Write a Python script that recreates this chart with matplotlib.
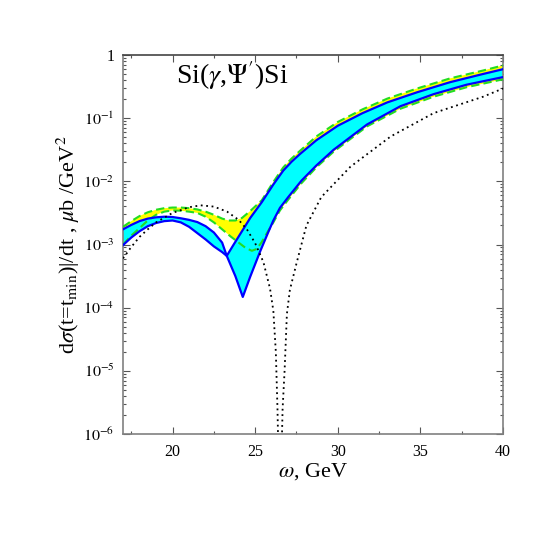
import numpy as np
import matplotlib
matplotlib.use("Agg")
import matplotlib.pyplot as plt
from matplotlib import ticker

plt.rcParams['font.family'] = ['Liberation Serif', 'DejaVu Serif']
plt.rcParams['mathtext.fontset'] = 'stix'

# band edges, log10 of d(sigma)/dt
ug_w = [17, 17.5, 18, 18.5, 19, 19.5, 20, 20.5, 21, 21.5, 22, 22.5, 23, 23.4, 23.8,
        24.2, 24.7, 25.4, 26.1, 26.7, 27.2, 27.7, 28.7, 30, 31.5, 33, 34.8, 36.8,
        38.8, 40]
ug_log = [-2.72, -2.63, -2.55, -2.49, -2.45, -2.425, -2.415, -2.415, -2.425, -2.445,
          -2.48, -2.53, -2.59, -2.62, -2.62, -2.58, -2.47, -2.30, -2.01, -1.78, -1.64,
          -1.52, -1.29, -1.06, -0.86, -0.69, -0.53, -0.37, -0.245, -0.165]

lg_w = [17, 17.5, 18, 18.5, 19, 19.5, 20, 20.5, 21, 21.5, 22, 22.5, 23, 23.5, 24,
        24.4, 24.8, 25.1, 25.4, 25.8, 26.1, 26.5, 27.0, 27.8, 28.7, 29.75, 31.77, 33.8,
        35.8, 37.8, 40]
lg_log = [-3.0, -2.86, -2.74, -2.62, -2.53, -2.48, -2.46, -2.465, -2.48, -2.50, -2.56,
          -2.65, -2.76, -2.87, -2.97, -3.05, -3.10, -3.07, -2.96, -2.78, -2.65, -2.46,
          -2.29, -2.03, -1.78, -1.53, -1.13, -0.85, -0.66, -0.51, -0.385]

bp_w = [17, 17.5, 18, 18.5, 19, 19.5, 20, 20.5, 21, 21.5, 22, 22.5, 23, 23.28, 23.8,
        24.25, 24.7, 25.3, 25.8, 26.1, 26.5, 27.0, 27.8, 28.7, 29.75, 31.77, 33.8,
        35.8, 37.8, 40]
bp_log = [-2.76, -2.69, -2.63, -2.59, -2.57, -2.56, -2.565, -2.585, -2.61, -2.645,
          -2.71, -2.81, -2.97, -3.18, -3.50, -3.83, -3.51, -3.11, -2.80, -2.62, -2.42,
          -2.25, -1.99, -1.75, -1.50, -1.10, -0.81, -0.62, -0.47, -0.35]

bq_w = [17, 17.5, 18, 18.5, 19, 19.5, 20, 20.5, 21, 21.5, 22, 22.5, 23, 23.28, 23.7,
        24.2, 24.7, 25.4, 26.1, 26.7, 27.2, 27.7, 28.7, 30, 31.5, 33, 34.8, 36.8,
        38.8, 40]
bq_log = [-3.01, -2.89, -2.79, -2.71, -2.66, -2.63, -2.62, -2.65, -2.72, -2.82, -2.92,
          -3.03, -3.12, -3.18, -3.00, -2.79, -2.58, -2.33, -2.05, -1.83, -1.69, -1.57,
          -1.35, -1.12, -0.92, -0.75, -0.59, -0.43, -0.30, -0.225]

dot_w = [17, 17.5, 18, 18.5, 19, 20, 21, 21.7, 22.5, 23.3, 24, 24.5, 25, 25.5, 25.9,
         26.1, 26.25, 26.35, 26.42, 26.5, 26.58, 26.66, 26.78, 26.92, 27.1, 27.5, 28.1,
         29, 30.76, 33.2, 35.8, 38.8, 40]
dot_log = [-3.22, -3.04, -2.88, -2.76, -2.65, -2.50, -2.41, -2.38, -2.40, -2.48, -2.61,
           -2.76, -2.98, -3.28, -3.70, -4.05, -4.7, -5.6, -6.5, -8, -6.5, -5.6, -5.0,
           -4.1, -3.72, -3.30, -2.70, -2.25, -1.77, -1.29, -0.92, -0.66, -0.53]

ytick_vals = [1e-6, 1e-5, 1e-4, 1e-3, 1e-2, 1e-1, 1]
ytick_labels = ['$10^{-6}$', '$10^{-5}$', '$10^{-4}$', '$10^{-3}$', '$10^{-2}$',
                '$10^{-1}$', '1']


def val(logs):
    return 10.0 ** np.array(logs)


fig = plt.figure(figsize=(5.45, 5.45), dpi=100)
ax = fig.add_axes([123 / 545, 1 - 434 / 545, 380 / 545, 379 / 545])
ax.set_yscale('log')

# yellow band between the green dashed curves, cyan band between the blue ones
ax.fill(np.concatenate([ug_w, lg_w[::-1]]),
        np.concatenate([val(ug_log), val(lg_log)[::-1]]),
        color='#ffff00', lw=0, zorder=1)
ax.fill(np.concatenate([bp_w, bq_w[::-1]]),
        np.concatenate([val(bp_log), val(bq_log)[::-1]]),
        color='#00ffff', lw=0, zorder=2)

green = '#22dd22'
ax.plot(ug_w, val(ug_log), color=green, lw=1.5, ls=(0, (4, 2)), zorder=3)
ax.plot(lg_w, val(lg_log), color=green, lw=1.5, ls=(0, (4, 2)), zorder=3)
ax.plot(bp_w, val(bp_log), color='#0000ff', lw=1.6, zorder=4)
ax.plot(bq_w, val(bq_log), color='#0000ff', lw=1.6, zorder=4)
ax.plot(dot_w, val(dot_log), color='black', lw=1.3, ls=(0, (1, 2)), zorder=5)

ax.set_xlim(17, 40)
ax.set_ylim(1e-6, 1)

ax.xaxis.set_major_locator(ticker.FixedLocator([20, 25, 30, 35, 40]))
ax.xaxis.set_minor_locator(ticker.MultipleLocator(2.5))
ax.yaxis.set_major_locator(ticker.FixedLocator(ytick_vals))
ax.yaxis.set_major_formatter(ticker.FixedFormatter(ytick_labels))
ax.yaxis.set_minor_locator(ticker.LogLocator(base=10, subs=np.arange(2, 10), numticks=20))
ax.yaxis.set_minor_formatter(ticker.NullFormatter())

ax.tick_params(which='both', direction='in', top=True, right=True,
               colors='#555555', labelcolor='black', labelsize=11.5)
ax.tick_params(which='major', length=5, width=0.8)
ax.tick_params(which='minor', length=2.5, width=0.8)
ax.tick_params(axis='x', which='major', pad=7)
ax.tick_params(axis='y', which='major', pad=6)
for side in ax.spines:
    ax.spines[side].set_color('#808080')
    ax.spines[side].set_linewidth(1.2)
ax.spines['top'].set_color('#444444')

ax.set_xlabel(r'$\omega$, GeV', fontsize=16, labelpad=1)
ax.set_ylabel(r'd$\sigma$(t=t$_{\rm min}$)|/dt , $\mu$b /GeV$^2$', fontsize=16, labelpad=1)
ax.text(0.14, 0.988, r'Si($\gamma$,$\Psi^{\prime}$)Si', transform=ax.transAxes,
        fontsize=20, va='top', ha='left')

fig.savefig('out.png', dpi=100)
